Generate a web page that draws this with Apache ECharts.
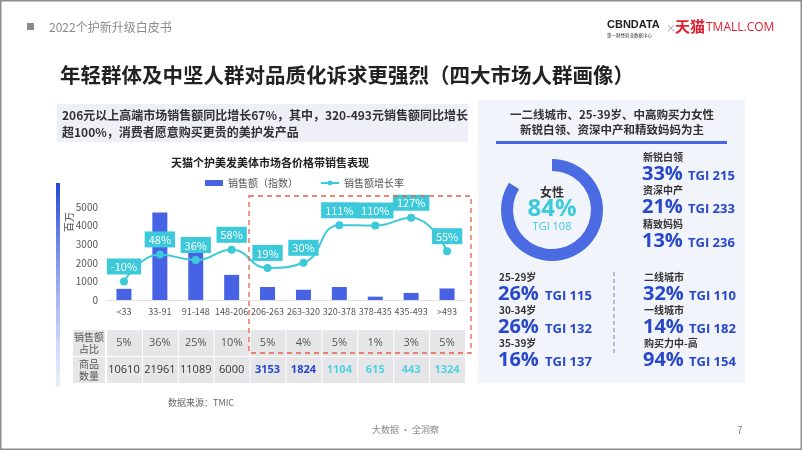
<!DOCTYPE html>
<html><head><meta charset="utf-8">
<script src="https://cdn.jsdelivr.net/npm/echarts@6/dist/echarts.min.js"></script>
<style>html,body{margin:0;padding:0;background:#fff}#c{width:802px;height:451px}</style>
</head><body><div id="c"></div>
<script>
// ---- data ----
var categories = ['<33','33-91','91-148','148-206','206-263','263-320','320-378','378-435','435-493','>493'];
var salesIndex = [600, 4700, 3250, 1350, 700, 550, 700, 180, 380, 620];
var growthRate = [-10, 48, 36, 58, 19, 30, 111, 110, 127, 55];
var salesShare = ['5%','36%','25%','10%','5%','4%','5%','1%','3%','5%'];
var productCount = ['10610','21961','11089','6000','3153','1824','1104','615','443','1324'];
var yTicks = [0, 1000, 2000, 3000, 4000, 5000];
var femaleShare = [84, 16];
var occLabels = ['新锐白领','资深中产','精致妈妈'];
var occPct = ['33%','21%','13%'];
var occTgi = ['TGI 215','TGI 233','TGI 236'];
var ageLabels = ['25-29岁','30-34岁','35-39岁'];
var agePct = ['26%','26%','16%'];
var ageTgi = ['TGI 115','TGI 132','TGI 137'];
var cityLabels = ['二线城市','一线城市','购买力中-高'];
var cityPct = ['32%','14%','94%'];
var cityTgi = ['TGI 110','TGI 182','TGI 154'];

var CJK = '"Noto Sans CJK SC","Noto Sans",sans-serif';
var NUM = '"Open Sans","Noto Sans CJK SC",sans-serif';
var BLUE = '#4763e4', CYAN = '#3cc9da', DBLUE = '#2747cc';

var chart = echarts.init(document.getElementById('c'), null, {renderer:'canvas'});
chart.setOption({
  animation:false,
  textStyle:{fontFamily:CJK},
  grid:{left:106, right:337, top:207, bottom:151, containLabel:false},
  legend:{left:200, top:173, itemGap:22, itemWidth:18, itemHeight:6,
    textStyle:{fontSize:10, color:'#555', fontFamily:CJK},
    data:[{name:'销售额（指数）', icon:'rect'}, {name:'销售额增长率'}]},
  xAxis:{type:'category', data:categories,
    axisLine:{show:true, lineStyle:{color:'#e0e0e0'}}, axisTick:{show:false},
    axisLabel:{color:'#555', fontSize:9, margin:7, interval:0, fontFamily:CJK}},
  yAxis:[{type:'value', min:yTicks[0], max:yTicks[yTicks.length-1], interval:1000,
    axisLine:{show:false}, axisTick:{show:false}, splitLine:{show:false},
    axisLabel:{color:'#555', fontSize:10, margin:8, formatter:function(v){return String(v);}}},
    {type:'value', min:-50, max:150, show:false, splitLine:{show:false}}],
  series:[
    {name:'销售额（指数）', type:'bar', data:salesIndex, barWidth:15, itemStyle:{color:BLUE}, z:2},
    {name:'销售额增长率', type:'line', yAxisIndex:1, data:growthRate, smooth:0.5,
      symbol:'circle', symbolSize:8, itemStyle:{color:CYAN}, lineStyle:{color:CYAN, width:2}, z:3,
      label:{show:true, position:'top', distance:3, formatter:'{c}%', color:'#fff', fontSize:11,
        backgroundColor:CYAN, padding:[3,4,2,4], fontFamily:CJK}},
    {type:'pie', center:[552,210], radius:[39,51], startAngle:90, clockwise:true, silent:true,
      label:{show:false}, labelLine:{show:false},
      data:[{value:femaleShare[0], itemStyle:{color:'#4a6be2'}}, {value:femaleShare[1], itemStyle:{color:'rgba(0,0,0,0)'}}]}
  ]
});

var g = [];
function txt(x,y,s,o){ o=o||{}; g.push({type:'text', x:x, y:y, z:o.z||10, rotation:o.rot||0, style:{text:s, fill:o.c||'#333',
  font:(o.b?'bold ':'')+(o.s||12)+'px '+(o.f||CJK), textAlign:o.a||'left', textVerticalAlign:'middle', lineHeight:o.lh}}); }
function rect(x,y,w,h,fill,o){ o=o||{}; g.push({type:'rect', z:o.z||1, shape:{x:x,y:y,width:w,height:h}, style:{fill:fill, stroke:o.stroke, lineWidth:o.lw, lineDash:o.dash}}); }

// slide frame
rect(0.75,0.75,800.5,448.5,'none',{stroke:'#8c8c8c', lw:1.5, z:50});
// header
rect(27,23,7,7,'#8e8b95');
txt(49,27,'2022个护新升级白皮书',{s:12, c:'#8a8a8a'});
// logo
txt(607,25,'CBNDATA',{s:11, b:true, c:'#222', f:'"Liberation Sans",sans-serif'});
txt(607,35,'第一财经商业数据中心',{s:4.5, c:'#333'});
txt(666,28,'×',{s:10, c:'#999'});
txt(675,26,'天猫',{s:15, b:true, c:'#e02030'});
txt(706,28,'TMALL.COM',{s:12, c:'#e02030', f:NUM});
// title
txt(60,75,'年轻群体及中坚人群对品质化诉求更强烈（四大市场人群画像）',{s:20.5, b:true, c:'#222'});
// subtitle box
rect(57,104,411,38,'#eef0f8');
txt(62,115,'206元以上高端市场销售额同比增长67%，其中，320-493元销售额同比增长',{s:12, b:true, c:'#333'});
txt(62,132,'超100%，消费者愿意购买更贵的美护发产品',{s:12, b:true, c:'#333'});
// chart title
txt(270,163,'天猫个护美发美体市场各价格带销售表现',{s:11, b:true, c:'#222', a:'center'});
// left blue gradient bar
g.push({type:'rect', z:1, shape:{x:56,y:183,width:4,height:204}, style:{fill:new echarts.graphic.LinearGradient(0,0,0,1,[{offset:0,color:'#2347d6'},{offset:1,color:'rgba(120,150,240,0.15)'}])}});
// axis unit
txt(69,222,'百万',{s:10, c:'#444', rot:Math.PI/2, a:'center'});

// table
var xs = categories.map(function(c){ return chart.convertToPixel({xAxisIndex:0}, c); });
var half = (xs[1]-xs[0])/2;
rect(73,330,32,26,'#e6e6e9'); rect(73,357,32,26,'#e6e6e9');
txt(89,343,'销售额\n占比',{s:10, c:'#555', a:'center', lh:12});
txt(89,370,'商品\n数量',{s:10, c:'#555', a:'center', lh:12});
xs.forEach(function(x,i){
  rect(x-half+1,330,2*half-1,26,'#e6e6e9');
  rect(x-half+1,357,2*half-1,26,'#e6e6e9');
  txt(x,343,salesShare[i],{s:11, c:'#555', a:'center', f:NUM});
  var col = i<4 ? '#333' : (i<6 ? DBLUE : '#4fd2e2');
  txt(x,370,productCount[i],{s:11, c:col, b:i>=4, a:'center', f:NUM});
});
// red dashed box
rect(249,196,222,157,'none',{stroke:'#e8604c', lw:1.3, dash:[5,4], z:20});
txt(168,403,'数据来源：TMIC',{s:9, c:'#666'});

// right panel
rect(478,100,267,283,'#f2f4fb');
txt(612,115,'一二线城市、25-39岁、中高购买力女性',{s:11.5, b:true, c:'#333', a:'center'});
txt(612,130,'新锐白领、资深中产和精致妈妈为主',{s:11.5, b:true, c:'#333', a:'center'});
rect(496,141,231,3,'#4a66e0');
txt(552,192,'女性',{s:12, b:true, c:'#333', a:'center'});
txt(552,209,femaleShare[0]+'%',{s:24, b:true, c:'#3ccbdc', a:'center', f:NUM});
txt(552,227,'TGI 108',{s:11, c:'#3ccbdc', a:'center', f:NUM});
function block(x, tx, y0, step, labels, pcts, tgis){
  labels.forEach(function(l,i){
    var y = y0 + i*step;
    txt(x, y, l, {s:10, c:'#333', b:true});
    txt(x-1, y+17, pcts[i], {s:20, b:true, c:DBLUE, f:NUM});
    txt(tx, y+19, tgis[i], {s:13, b:true, c:DBLUE, f:NUM});
  });
}
block(643, 688, 157, 33.5, occLabels, occPct, occTgi);
block(499, 545, 277, 33, ageLabels, agePct, ageTgi);
block(644, 689, 277, 33, cityLabels, cityPct, cityTgi);
g.push({type:'line', z:2, shape:{x1:614,y1:272,x2:614,y2:356}, style:{stroke:'#8a94b8', lineWidth:1.2, lineDash:[4,3]}});
// footer
txt(372,430,'大数据 · 全洞察',{s:9, c:'#888'});
txt(737,430,'7',{s:10, c:'#888'});

chart.setOption({graphic:g});
</script></body></html>
